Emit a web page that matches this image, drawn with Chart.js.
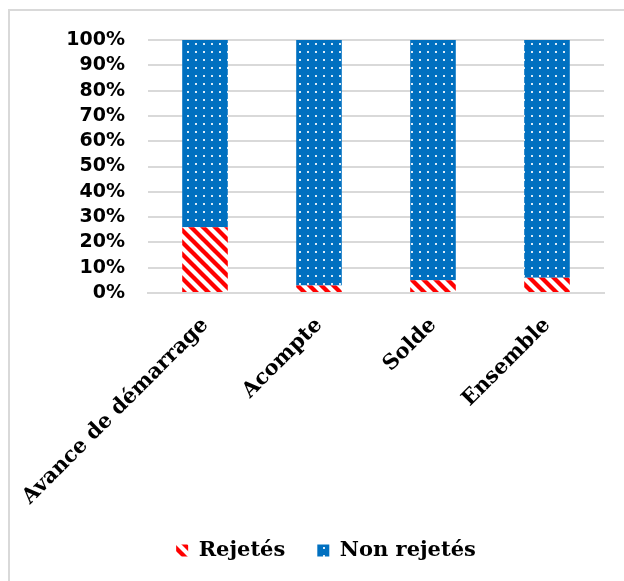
<!DOCTYPE html>
<html>
<head>
<meta charset="utf-8">
<script src="https://cdn.jsdelivr.net/npm/chart.js@4/dist/chart.umd.min.js"></script>
<style>
  body { margin: 0; background: #fff; }
  #frame { position: absolute; left: 8px; top: 9px; width: 700px; height: 700px; border: 2px solid #d9d9d9; }
  #wrap { position: absolute; left: 0; top: 0; width: 624px; height: 581px; }
</style>
</head>
<body>
<div id="frame"></div>
<div id="wrap"><canvas id="chart"></canvas></div>
<script>
const categories = ["Avance de démarrage", "Acompte", "Solde", "Ensemble"];
const rejetes = [26, 3, 5, 6];
const nonRejetes = [74, 97, 95, 94];
const yTicks = [0, 10, 20, 30, 40, 50, 60, 70, 80, 90, 100];

// red wide downward diagonal stripes on white
function stripePattern() {
    const p = 12;
    const c = document.createElement("canvas");
    c.width = p; c.height = p;
    const g = c.getContext("2d");
    g.fillStyle = "#fff";
    g.fillRect(0, 0, p, p);
    g.strokeStyle = "#ff0000";
    g.lineWidth = 4.3;
    for (let k = -1; k <= 1; k++) {
        g.beginPath();
        g.moveTo(k * p - 2, -2);
        g.lineTo(k * p + p + 2, p + 2);
        g.stroke();
    }
    return g.createPattern(c, "repeat");
}

// blue with small white dots
function dotPattern() {
    const c = document.createElement("canvas");
    c.width = 8; c.height = 8;
    const g = c.getContext("2d");
    g.fillStyle = "#0070c0";
    g.fillRect(0, 0, 8, 8);
    g.fillStyle = "rgba(255,255,255,0.85)";
    g.fillRect(3, 3, 2, 2);
    return g.createPattern(c, "repeat");
}

// the legend sits a bit right of the plot centre in the original
const shiftLegend = {
    id: "shiftLegend",
    afterLayout(chart) {
        chart.legend.left += 24;
        chart.legend.right += 24;
    }
};

const ctx = document.getElementById("chart").getContext("2d");
new Chart(ctx, {
    type: "bar",
    data: {
        labels: categories,
        datasets: [
            { label: "Rejetés", data: rejetes, backgroundColor: stripePattern(), borderWidth: 0 },
            { label: "Non rejetés", data: nonRejetes, backgroundColor: dotPattern(), borderWidth: 0 }
        ]
    },
    options: {
        responsive: true,
        maintainAspectRatio: false,
        animation: false,
        datasets: { bar: { barPercentage: 0.4, categoryPercentage: 1 } },
        layout: { padding: { top: 40, right: 20, bottom: 10, left: 0 } },
        plugins: {
            tooltip: { enabled: false },
            legend: {
                position: "bottom",
                labels: {
                    boxWidth: 12,
                    boxHeight: 12,
                    padding: 32,
                    color: "#000",
                    font: { family: "DejaVu Serif", weight: "bold", size: 21 }
                }
            }
        },
        scales: {
            x: {
                stacked: true,
                grid: { display: false },
                border: { display: true, color: "#d9d9d9", width: 2 },
                ticks: {
                    maxRotation: 45,
                    minRotation: 45,
                    padding: 12,
                    color: "#000",
                    font: { family: "DejaVu Serif", weight: "bold", size: 21 }
                },
                afterFit: (scale) => {
                    scale.height = 215;
                    scale.paddingLeft = 0;
                    scale.paddingRight = 0;
                }
            },
            y: {
                stacked: true,
                min: 0,
                max: 100,
                afterBuildTicks: (scale) => { scale.ticks = yTicks.map(v => ({ value: v })); },
                grid: { color: "#d9d9d9", lineWidth: 2, drawTicks: false },
                border: { display: false },
                ticks: {
                    autoSkip: false,
                    padding: 23,
                    color: "#000",
                    font: { family: "DejaVu Sans", weight: "bold", size: 19 },
                    callback: (v) => v + "%"
                },
                afterFit: (scale) => { scale.width = 148; }
            }
        }
    },
    plugins: [shiftLegend]
});
</script>
</body>
</html>
